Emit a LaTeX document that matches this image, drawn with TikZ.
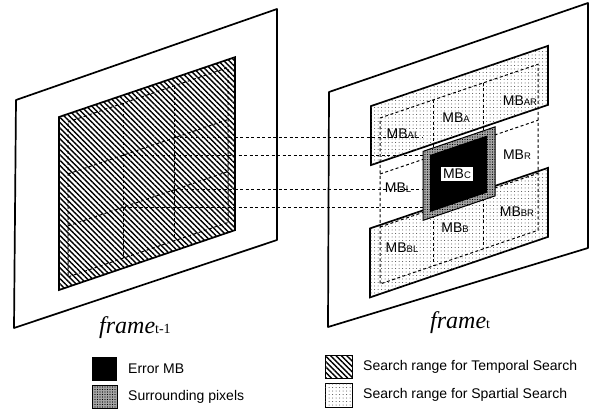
\documentclass[tikz,border=0pt]{standalone}
\usepackage{fontspec}
\setmainfont{Liberation Sans}
\newfontfamily\serifit{Liberation Serif}
\usetikzlibrary{patterns.meta}
\newcommand{\mb}[1]{MB{\fontsize{9.5}{10}\selectfont #1}}
\tikzset{
  framebox/.style={line width=1.7pt, line join=round},
  tempzone/.style={line width=1.7pt, pattern={Lines[angle=-45,distance=3.8pt,line width=1.4pt]}},
  spatzone/.style={line width=1.7pt, fill=white, postaction={pattern color=black!75, pattern={Dots[distance=3.5pt,radius=0.5pt]}}},
  ringzone/.style={line width=1pt, fill=black!35, postaction={pattern color=black, pattern={Dots[distance=2.5pt,radius=0.6pt]}}},
  mbgrid/.style={dash pattern=on 3pt off 2.5pt, line width=1pt},
  conn/.style={dash pattern=on 3pt off 2.5pt, line width=1pt},
  lbl/.style={font=\fontsize{14}{14}\selectfont, inner sep=1pt},
  frm/.style={font=\serifit\itshape\fontsize{24}{24}\selectfont, anchor=base west, inner sep=0pt},
  legend/.style={font=\fontsize{14}{14}\selectfont, anchor=west, inner sep=0pt},
}

\begin{document}
\begin{tikzpicture}[x=1pt,y=-1pt]
\useasboundingbox (0,0) rectangle (601,412);

% frame t-1
\draw[framebox] (16,100) -- (277,9) -- (277,240) -- (14,328) -- cycle;
\begin{scope}[shift={(59,117)},yslant=0.34]
\draw[tempzone] (0,0) -- (176,0) -- (176,173) -- (0,173) -- cycle;
\draw[mbgrid] (9,8) -- (169,8) -- (169,163) -- (9,163) -- cycle;
\draw[mbgrid] (64,8) -- (64,163) (115,8) -- (115,163);
\draw[mbgrid] (9,60) -- (169,60) (9,112) -- (169,112);
\coordinate (p1) at (115,60);
\coordinate (p2) at (64,60);
\coordinate (p3) at (115,112);
\coordinate (p4) at (64,112);
\end{scope}

% frame t
\draw[framebox] (329,92) -- (588,3) -- (588,248) -- (328,327) -- cycle;
\begin{scope}[shift={(380,121)},yslant=0.34]
\draw[spatzone] (-9,-18) -- (168,-18) -- (168,41) -- (-9,41) -- cycle;
\draw[spatzone] (-10,104) -- (168,104) -- (168,173) -- (-10,173) -- cycle;
\draw[mbgrid] (0,-3) -- (158,-3) -- (158,163) -- (0,163) -- cycle;
\draw[mbgrid] (53,-3) -- (53,163) (103,-3) -- (103,163);
\draw[mbgrid] (0,53) -- (158,53) (0,106) -- (158,106);
\coordinate (g1) at (43,79);
\end{scope}

% links between the frames
\draw[conn] (p1) -- (p1 -| g1);
\draw[conn] (p2) -- (p2 -| g1);
\draw[conn] (p3) -- (p3 -| g1);
\draw[conn] (p4) -- (p4 -| g1);

\begin{scope}[shift={(380,121)},yslant=0.34]
\draw[ringzone] (43,45) -- (115,45) -- (115,114) -- (43,114) -- cycle;
\fill (50,51) -- (107,51) -- (107,108) -- (50,108) -- cycle;
\draw(77,79) node[lbl,fill=white,inner sep=2pt] (C) {\mb{C}};
\draw(23,21) node[lbl] (AL) {\mb{AL}};
\draw(76,23) node[lbl] (A) {\mb{A}};
\draw(140,27) node[lbl] (AR) {\mb{AR}};
\draw(18,73) node[lbl] (L) {\mb{L}};
\draw(137,80) node[lbl] (R) {\mb{R}};
\draw(22,134) node[lbl] (BL) {\mb{BL}};
\draw(75,132) node[lbl] (B) {\mb{B}};
\draw(137,137) node[lbl] (BR) {\mb{BR}};
\end{scope}

\draw(99,333) node[frm] (f1) {frame{\fontsize{14}{14}\selectfont\upshape t-1}};
\draw(430,328) node[frm] (f2) {frame{\fontsize{14}{14}\selectfont\upshape t}};

% legend
\fill (92,357) rectangle (117,381);
\draw[ringzone] (92,385) rectangle (117,408);
\draw[tempzone,line width=1pt] (325,355) rectangle (352,378);
\draw[spatzone,line width=1pt] (325,383) rectangle (352,407);
\draw(128,369) node[legend] (k1) {Error MB};
\draw(128,397) node[legend] (k2) {Surrounding pixels};
\draw(363,367) node[legend] (k3) {Search range for Temporal Search};
\draw(363,395) node[legend] (k4) {Search range for Spartial Search};
\end{tikzpicture}
\end{document}
